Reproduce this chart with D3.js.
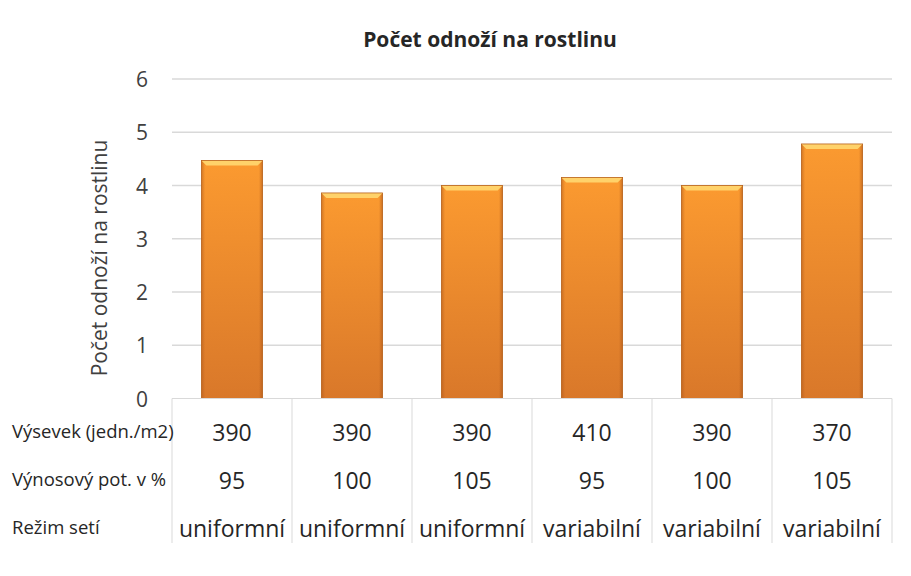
<!DOCTYPE html>
<meta charset="utf-8">
<style>
body { margin: 0; background: #fff; font-family: 'Open Sans', sans-serif; }
.grid line { stroke: #d9d9d9; stroke-width: 1.5; }
.tbl line { stroke: #d9d9d9; stroke-width: 1; }
</style>
<body>
<script src="https://d3js.org/d3.v7.min.js"></script>
<script>
var width = 911, height = 576;

// data
var values = [4.47, 3.86, 4.0, 4.15, 4.0, 4.78];
var vysevek = ["390", "390", "390", "410", "390", "370"];
var potencial = ["95", "100", "105", "95", "100", "105"];
var rezim = ["uniformní", "uniformní", "uniformní", "variabilní", "variabilní", "variabilní"];
var rowLabels = ["Výsevek (jedn./m2)", "Výnosový pot. v %", "Režim setí"];
var yTicks = [0, 1, 2, 3, 4, 5, 6];

var margin = {left: 172, right: 19, top: 79, plotBottom: 398.5};

var svg = d3.select("body").append("svg")
    .attr("width", width)
    .attr("height", height);

var defs = svg.append("defs");
var g1 = defs.append("linearGradient").attr("id", "barFill")
    .attr("x1", 0).attr("y1", 0).attr("x2", 0).attr("y2", 1);
g1.append("stop").attr("offset", "0%").attr("stop-color", "#fb9a30");
g1.append("stop").attr("offset", "100%").attr("stop-color", "#d9782a");
var g2 = defs.append("linearGradient").attr("id", "barSide")
    .attr("x1", 0).attr("y1", 0).attr("x2", 1).attr("y2", 0);
g2.append("stop").attr("offset", "0%").attr("stop-color", "#a9541a").attr("stop-opacity", 0.5);
g2.append("stop").attr("offset", "6%").attr("stop-color", "#a9541a").attr("stop-opacity", 0);
g2.append("stop").attr("offset", "94%").attr("stop-color", "#a9541a").attr("stop-opacity", 0);
g2.append("stop").attr("offset", "100%").attr("stop-color", "#a9541a").attr("stop-opacity", 0.6);

var x = d3.scaleBand()
    .domain(d3.range(values.length))
    .range([margin.left, width - margin.right])
    .paddingInner(0.49)
    .paddingOuter(0.245);

var xCell = d3.scaleBand()
    .domain(d3.range(values.length))
    .range([margin.left, width - margin.right]);

var y = d3.scaleLinear()
    .domain([0, 6])
    .range([margin.plotBottom, margin.top]);

// gridlines
svg.append("g").attr("class", "grid")
  .selectAll("line")
  .data(yTicks.slice(1))
  .join("line")
    .attr("x1", margin.left)
    .attr("x2", width - margin.right)
    .attr("y1", d => y(d))
    .attr("y2", d => y(d));

// y tick labels
svg.append("g")
  .selectAll("text")
  .data(yTicks)
  .join("text")
    .attr("x", 142)
    .attr("y", d => y(d) + 8)
    .attr("text-anchor", "middle")
    .attr("font-size", 21)
    .attr("fill", "#404040")
    .text(d => d);

// axis title
svg.append("text")
    .attr("transform", "translate(107,258) rotate(-90)")
    .attr("text-anchor", "middle")
    .attr("font-size", 21)
    .attr("fill", "#404040")
    .text("Počet odnoží na rostlinu");

// chart title
svg.append("text")
    .attr("x", 490)
    .attr("y", 47)
    .attr("text-anchor", "middle")
    .attr("font-weight", "bold")
    .attr("font-size", 21)
    .attr("fill", "#262626")
    .text("Počet odnoží na rostlinu");

// bars
var bars = svg.append("g")
  .selectAll("g")
  .data(values)
  .join("g")
    .attr("transform", (d, i) => "translate(" + x(i) + "," + y(d) + ")");

bars.append("rect")
    .attr("width", x.bandwidth())
    .attr("height", d => y(0) - y(d))
    .attr("fill", "url(#barFill)");
bars.append("rect")
    .attr("width", x.bandwidth())
    .attr("height", d => y(0) - y(d))
    .attr("fill", "url(#barSide)");
bars.append("path")
    .attr("d", "M0,0 H" + x.bandwidth() + " L" + (x.bandwidth() - 5) + ",5 H5 Z")
    .attr("fill", "#ffd26a");
bars.append("rect")
    .attr("width", x.bandwidth())
    .attr("height", d => y(0) - y(d))
    .attr("fill", "none")
    .attr("stroke", "#b8641f")
    .attr("stroke-width", 0.8);

// data table
var tbl = svg.append("g").attr("class", "tbl");
tbl.selectAll("line")
  .data(d3.range(values.length + 1))
  .join("line")
    .attr("x1", i => margin.left + i * xCell.bandwidth())
    .attr("x2", i => margin.left + i * xCell.bandwidth())
    .attr("y1", margin.plotBottom)
    .attr("y2", 543);
tbl.append("line")
    .attr("x1", margin.left).attr("x2", width - margin.right)
    .attr("y1", margin.plotBottom).attr("y2", margin.plotBottom);

var rows = [vysevek, potencial, rezim];
var rowY = [441, 489, 537];

rowLabels.forEach(function(lbl, r) {
  svg.append("text")
      .attr("x", 12)
      .attr("y", rowY[r] - 3)
      .attr("font-size", 18.5)
      .attr("fill", "#262626")
      .text(lbl);
  svg.append("g")
    .selectAll("text")
    .data(rows[r])
    .join("text")
      .attr("x", (d, i) => xCell(i) + xCell.bandwidth() / 2)
      .attr("y", rowY[r])
      .attr("text-anchor", "middle")
      .attr("font-size", 23)
      .attr("fill", "#262626")
      .text(d => d);
});
</script>
</body>
